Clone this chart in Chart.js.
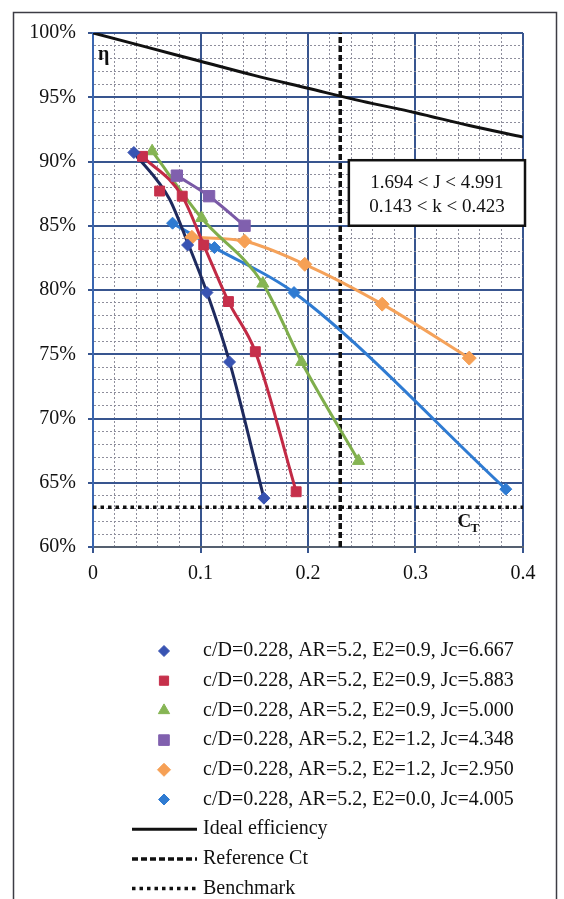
<!DOCTYPE html>
<html>
<head>
<meta charset="utf-8">
<script src="https://cdn.jsdelivr.net/npm/chart.js@4/dist/chart.umd.min.js"></script>
<style>
  html, body { margin: 0; padding: 0; background: #ffffff; }
  #wrap { position: relative; width: 564px; height: 899px; }
  canvas { display: block; }
</style>
</head>
<body>
<div id="wrap"><canvas id="chart" width="564" height="899"></canvas></div>
<script>
// Propeller series: thrust coefficient C_T (x) against efficiency η in % (y)
const seriesLabels = [
  'c/D=0.228, AR=5.2, E2=0.9, Jc=6.667',
  'c/D=0.228, AR=5.2, E2=0.9, Jc=5.883',
  'c/D=0.228, AR=5.2, E2=0.9, Jc=5.000',
  'c/D=0.228, AR=5.2, E2=1.2, Jc=4.348',
  'c/D=0.228, AR=5.2, E2=1.2, Jc=2.950',
  'c/D=0.228, AR=5.2, E2=0.0, Jc=4.005'
];

const ct1 = [0.038, 0.088, 0.106, 0.127, 0.159];
const eta1 = [90.7, 83.5, 79.8, 74.4, 63.8];
// smoothed curve of the Jc=6.667 series
const curveCt1 = [0.038, 0.071, 0.088, 0.106, 0.127, 0.159];
const curveEta1 = [90.7, 87.1, 83.7, 79.8, 74.4, 63.8];

const ct2 = [0.046, 0.062, 0.083, 0.103, 0.126, 0.151, 0.189];
const eta2 = [90.4, 87.7, 87.3, 83.5, 79.1, 75.2, 64.3];
// smoothed curve of the Jc=5.883 series
const curveCt2 = [0.046, 0.083, 0.103, 0.126, 0.151, 0.189];
const curveEta2 = [90.4, 87.3, 83.5, 79.1, 75.2, 64.3];

const ct3 = [0.055, 0.101, 0.158, 0.194, 0.247];
const eta3 = [90.8, 85.6, 80.5, 74.4, 66.7];

const ct4 = [0.078, 0.108, 0.141];
const eta4 = [88.9, 87.3, 85.0];

const ct5 = [0.092, 0.141, 0.197, 0.269, 0.350];
const eta5 = [84.1, 83.8, 82.0, 78.9, 74.7];

const ct6 = [0.074, 0.113, 0.187, 0.384];
const eta6 = [85.2, 83.3, 79.8, 64.5];

// ideal (actuator disc) efficiency curve
const idealCt = [0, 0.05, 0.10, 0.15, 0.20, 0.25, 0.30, 0.35, 0.40];
const idealEta = [100, 98.9, 97.8, 96.7, 95.7, 94.7, 93.8, 92.8, 91.9];

// reference thrust coefficient and benchmark efficiency
const refCt = [0.23, 0.23];
const refEta = [60, 100];
const benchCt = [0, 0.4];
const benchEta = [63.1, 63.1];

const xTicks = [0, 0.1, 0.2, 0.3, 0.4];
const yTicks = [60, 65, 70, 75, 80, 85, 90, 95, 100];

const markerCt = [ct1, ct2, ct3, ct4, ct5, ct6];
const markerEta = [eta1, eta2, eta3, eta4, eta5, eta6];
const curveCt = [curveCt1, curveCt2, ct3, ct4, ct5, ct6];
const curveEta = [curveEta1, curveEta2, eta3, eta4, eta5, eta6];

const looks = [
  { line: '#1e2a5e', fill: '#3853b2', shape: 'rectRot', r: 6 },
  { line: '#c22a45', fill: '#c6304b', shape: 'rect', r: 7 },
  { line: '#7fae4c', fill: '#86b554', shape: 'triangle', r: 7 },
  { line: '#7a5aa6', fill: '#8060ae', shape: 'rect', r: 8 },
  { line: '#f5a25a', fill: '#f6a055', shape: 'rectRot', r: 7 },
  { line: '#2f7bd2', fill: '#2f7bd2', shape: 'rectRot', r: 6 }
];

const SERIF = "'Liberation Serif', 'Times New Roman', serif";
const MAJOR = '#38558f';
const MINOR = '#8e8e9c';

const toXY = (xs, ys) => xs.map((x, i) => ({ x: x, y: ys[i] }));
const xMajor = v => xTicks.some(t => Math.abs(t - v) < 1e-6);
const yMajor = v => yTicks.some(t => Math.abs(t - v) < 1e-6);

const datasets = [];
looks.forEach((lk, i) => {
  datasets.push({
    label: seriesLabels[i],
    data: toXY(markerCt[i], markerEta[i]),
    showLine: false,
    pointStyle: lk.shape,
    pointRadius: lk.r,
    pointHoverRadius: lk.r,
    pointBackgroundColor: lk.fill,
    pointBorderColor: lk.fill,
    pointBorderWidth: 1,
    order: 0
  });
  datasets.push({
    label: seriesLabels[i] + ' curve',
    data: toXY(curveCt[i], curveEta[i]),
    showLine: true,
    borderColor: lk.line,
    borderWidth: 3,
    pointRadius: 0,
    cubicInterpolationMode: 'monotone',
    order: 1
  });
});
datasets.push({
  label: 'Ideal efficiency',
  data: toXY(idealCt, idealEta),
  showLine: true, borderColor: '#111111', borderWidth: 3,
  pointRadius: 0, cubicInterpolationMode: 'monotone', order: 2
});
datasets.push({
  label: 'Reference Ct',
  data: toXY(refCt, refEta),
  showLine: true, borderColor: '#111111', borderWidth: 3.5, borderDash: [6, 3],
  pointRadius: 0, order: 2
});
datasets.push({
  label: 'Benchmark',
  data: toXY(benchCt, benchEta),
  showLine: true, borderColor: '#111111', borderWidth: 3.5, borderDash: [3.5, 4],
  pointRadius: 0, order: 2
});

function markerAt(ctx, shape, r, color, x, y) {
  ctx.save();
  ctx.fillStyle = color;
  ctx.strokeStyle = color;
  ctx.lineWidth = 1;
  Chart.helpers.drawPoint(ctx, { pointStyle: shape, radius: r, rotation: 0, borderWidth: 1 }, x, y);
  ctx.restore();
}

const decor = {
  id: 'decor',
  beforeDraw(chart) {
    const c = chart.ctx;
    c.save();
    c.fillStyle = '#ffffff';
    c.fillRect(0, 0, chart.width, chart.height);
    c.restore();
  },
  afterDatasetsDraw(chart) {
    const c = chart.ctx;
    const xs = chart.scales.x, ys = chart.scales.y, area = chart.chartArea;
    c.save();
    // parameter range box
    const bx = xs.getPixelForValue(0.238), bt = ys.getPixelForValue(90.1);
    const br = area.right + 2, bb = ys.getPixelForValue(85.0);
    c.fillStyle = '#ffffff';
    c.fillRect(bx, bt, br - bx, bb - bt);
    c.strokeStyle = '#111111';
    c.lineWidth = 2.5;
    c.strokeRect(bx, bt, br - bx, bb - bt);
    c.fillStyle = '#111111';
    c.font = '19px ' + SERIF;
    c.textAlign = 'center';
    c.textBaseline = 'middle';
    const cx = (bx + br) / 2;
    c.fillText('1.694 < J < 4.991', cx, bt + 23);
    c.fillText('0.143 < k < 0.423', cx, bt + 47);
    // axis symbols inside the plot
    c.textAlign = 'left';
    c.textBaseline = 'alphabetic';
    c.font = 'bold 20px ' + SERIF;
    c.fillText('η', area.left + 5, area.top + 27);
    c.font = 'bold 19px ' + SERIF;
    c.fillText('C', xs.getPixelForValue(0.339), area.bottom - 20);
    c.font = 'bold 13px ' + SERIF;
    c.fillText('T', xs.getPixelForValue(0.339) + 13, area.bottom - 15);
    c.restore();
  },
  afterDraw(chart) {
    const c = chart.ctx;
    c.save();
    // outer frame
    c.strokeStyle = '#3c3c44';
    c.lineWidth = 1.5;
    c.strokeRect(13.5, 12.5, 543, 900);
    // legend
    const top = 651, step = 29.7, textX = 203;
    c.font = '20px ' + SERIF;
    c.fillStyle = '#111111';
    c.textAlign = 'left';
    c.textBaseline = 'middle';
    looks.forEach((lk, i) => {
      const y = top + i * step;
      markerAt(c, lk.shape, lk.r - 0.5, lk.fill, 164, y);
      c.fillStyle = '#111111';
      c.fillText(seriesLabels[i], textX, y);
    });
    const lineItems = datasets.slice(12);
    lineItems.forEach((ds, j) => {
      const y = top + (6 + j) * step;
      c.save();
      c.strokeStyle = ds.borderColor;
      c.lineWidth = ds.borderWidth;
      c.setLineDash(ds.borderDash || []);
      c.beginPath();
      c.moveTo(132, y);
      c.lineTo(197, y);
      c.stroke();
      c.restore();
      c.fillStyle = '#111111';
      c.fillText(ds.label, textX, y);
    });
    c.restore();
  }
};

new Chart(document.getElementById('chart'), {
  type: 'scatter',
  data: { datasets: datasets },
  plugins: [decor],
  options: {
    responsive: false,
    animation: false,
    events: [],
    layout: { padding: { left: 0, top: 33, right: 41, bottom: 312 } },
    plugins: { legend: { display: false }, tooltip: { enabled: false } },
    scales: {
      x: {
        type: 'linear',
        min: 0, max: 0.4,
        afterFit(s) { s.height = 40; },
        ticks: {
          stepSize: 0.02,
          autoSkip: false,
          maxRotation: 0,
          padding: 9,
          color: '#111111',
          font: { family: SERIF, size: 20 },
          callback: v => (xMajor(v) ? String(Math.round(v * 10) / 10) : '')
        },
        grid: {
          color: ctx => (ctx.tick && xMajor(ctx.tick.value) ? MAJOR : MINOR),
          lineWidth: ctx => (ctx.tick && xMajor(ctx.tick.value) ? 2 : 1),
          tickColor: ctx => (ctx.tick && xMajor(ctx.tick.value) ? MAJOR : 'rgba(0,0,0,0)'),
          tickLength: 6
        },
        border: {
          color: '#556070', width: 2,
          dash: ctx => (ctx.type === 'tick' && ctx.tick && !xMajor(ctx.tick.value) ? [2, 2] : [])
        }
      },
      y: {
        type: 'linear',
        min: 60, max: 100,
        afterFit(s) { s.width = 93; },
        ticks: {
          stepSize: 1,
          autoSkip: false,
          padding: 12,
          color: '#111111',
          font: { family: SERIF, size: 20 },
          callback: v => (yMajor(v) ? v + '%' : '')
        },
        grid: {
          color: ctx => (ctx.tick && yMajor(ctx.tick.value) ? MAJOR : MINOR),
          lineWidth: ctx => (ctx.tick && yMajor(ctx.tick.value) ? 2 : 1),
          tickColor: ctx => (ctx.tick && yMajor(ctx.tick.value) ? MAJOR : 'rgba(0,0,0,0)'),
          tickLength: 5
        },
        border: {
          color: '#3a66b0', width: 2,
          dash: ctx => (ctx.type === 'tick' && ctx.tick && !yMajor(ctx.tick.value) ? [2, 2] : [])
        }
      }
    }
  }
});
</script>
</body>
</html>
